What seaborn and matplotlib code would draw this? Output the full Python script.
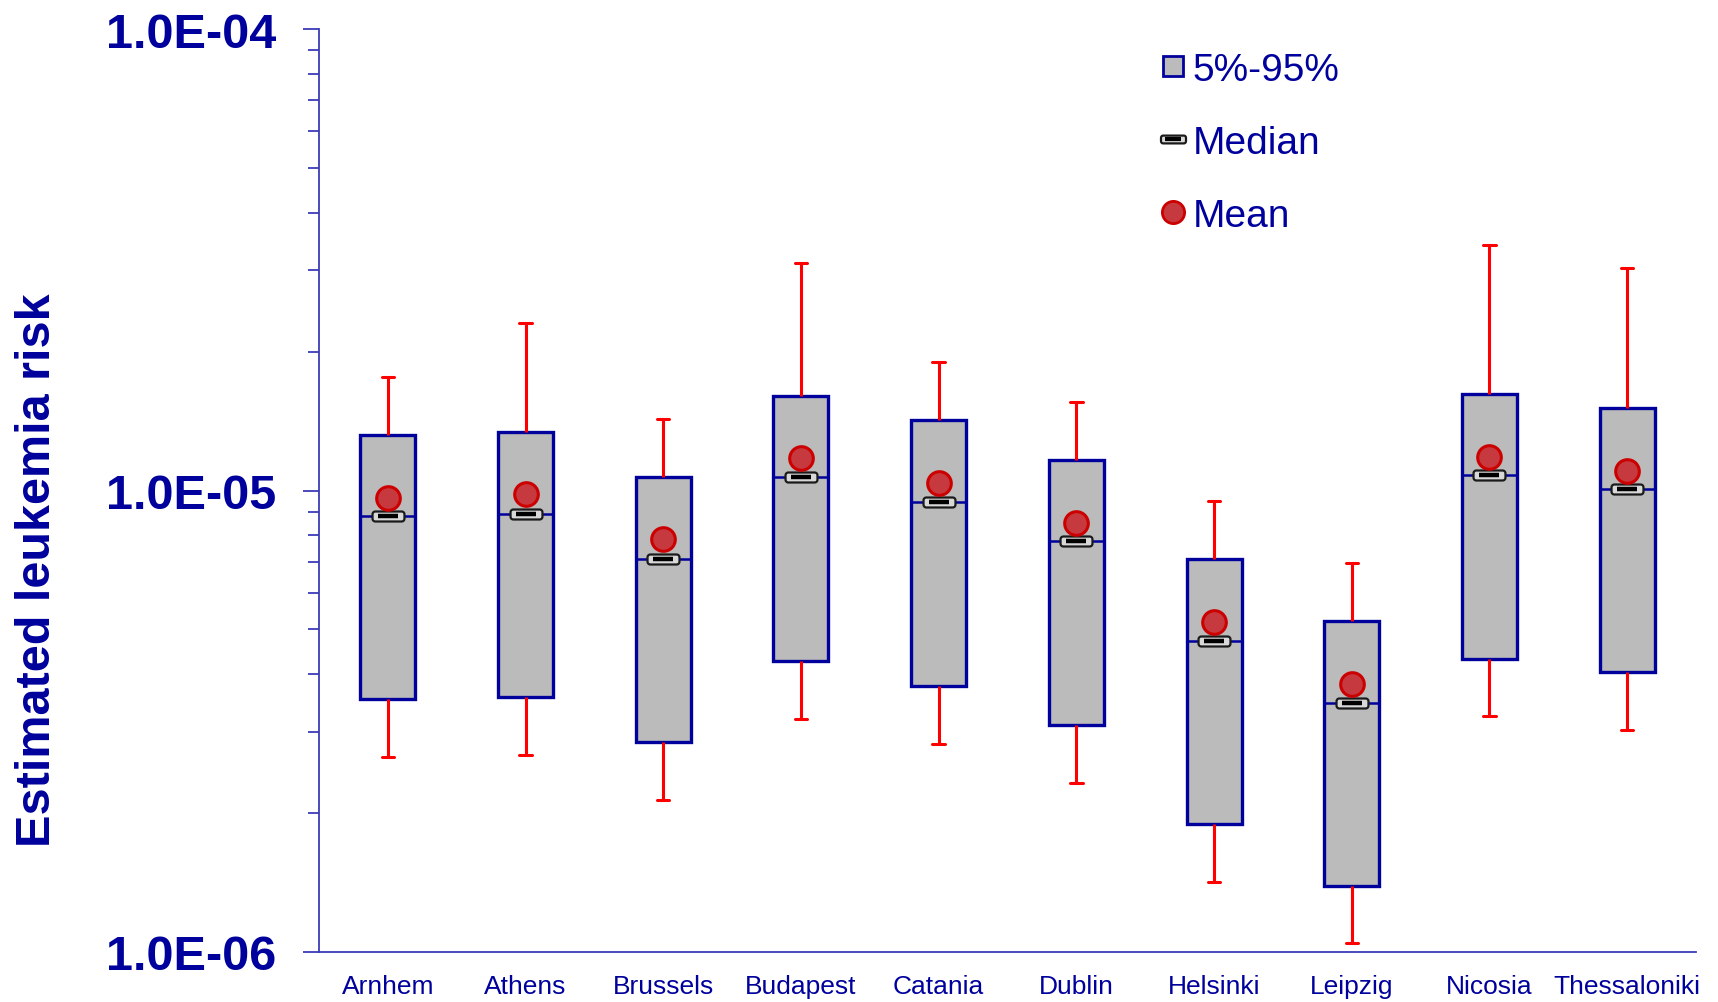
import numpy as np
import pandas as pd
import matplotlib
matplotlib.use("Agg")
import matplotlib.pyplot as plt
from matplotlib.path import Path
from matplotlib.lines import Line2D
from matplotlib.ticker import FixedLocator, FuncFormatter, LogLocator, NullFormatter
import seaborn as sns

# Estimated leukemia risk per city: 5th/95th percentiles (box), whisker ends, median and mean
cities = ["Arnhem", "Athens", "Brussels", "Budapest", "Catania",
          "Dublin", "Helsinki", "Leipzig", "Nicosia", "Thessaloniki"]
whisker_low = [2.64e-6, 2.67e-6, 2.14e-6, 3.20e-6, 2.82e-6, 2.32e-6, 1.42e-6, 1.045e-6, 3.24e-6, 3.03e-6]
p5 = [3.53e-6, 3.57e-6, 2.85e-6, 4.28e-6, 3.77e-6, 3.10e-6, 1.894e-6, 1.388e-6, 4.32e-6, 4.05e-6]
median = [8.79e-6, 8.89e-6, 7.11e-6, 1.071e-5, 9.44e-6, 7.76e-6, 4.72e-6, 3.46e-6, 1.082e-5, 1.008e-5]
p95 = [1.318e-5, 1.339e-5, 1.071e-5, 1.604e-5, 1.422e-5, 1.162e-5, 7.11e-6, 5.21e-6, 1.622e-5, 1.51e-5]
whisker_high = [1.76e-5, 2.31e-5, 1.43e-5, 3.11e-5, 1.90e-5, 1.552e-5, 9.50e-6, 6.95e-6, 3.41e-5, 3.04e-5]
mean = [9.65e-6, 9.81e-6, 7.84e-6, 1.175e-5, 1.036e-5, 8.51e-6, 5.18e-6, 3.81e-6, 1.181e-5, 1.10e-5]

y_major = [1e-6, 1e-5, 1e-4]

NAVY = "#00009C"
AXIS = "#3B3BB8"
BOX_FILL = "#BBBBBB"
MEAN_FILL = "#C63A3F"
MEAN_EDGE = "#CC0000"

sns.set_theme(style="white")
plt.rcParams["font.family"] = ["Liberation Sans", "DejaVu Sans"]

# Five summary values per city: with whiskers spanning the full range, the
# box edges fall on the 2nd and 4th values and the centre line on the 3rd.
long = pd.DataFrame({
    "city": np.repeat(cities, 5),
    "risk": np.column_stack([whisker_low, p5, median, p95, whisker_high]).ravel(),
})

fig = plt.figure(figsize=(17.18, 10.03), dpi=100)
ax = fig.add_axes([319 / 1718, 1 - 953 / 1003, (1696 - 319) / 1718, (953 - 30) / 1003])

sns.boxplot(
    data=long, x="city", y="risk", order=cities, ax=ax,
    whis=(0, 100), width=0.4, log_scale=True, fill=True,
    boxprops=dict(facecolor=BOX_FILL, edgecolor=NAVY, linewidth=2.4),
    whiskerprops=dict(color="#FF0000", linewidth=2.2),
    capprops=dict(color="#FF0000", linewidth=2.2),
    medianprops=dict(color=NAVY, linewidth=1.8),
    showfliers=False,
)

# narrower whisker caps
for line in ax.lines:
    xd = np.asarray(line.get_xdata(), dtype=float)
    yd = np.asarray(line.get_ydata(), dtype=float)
    if len(xd) == 2 and yd[0] == yd[1] and line.get_color() in ("#FF0000", "#ff0000"):
        c = xd.mean()
        line.set_xdata([c - 0.045, c + 0.045])

# rounded-rectangle marker for the median
def rounded_rect(w=3.2, h=1.0, r=0.28, n=8):
    verts = []
    corners = [(w / 2 - r, h / 2 - r, 0), (-w / 2 + r, h / 2 - r, 90),
               (-w / 2 + r, -h / 2 + r, 180), (w / 2 - r, -h / 2 + r, 270)]
    for cx, cy, a0 in corners:
        for t in np.linspace(np.radians(a0), np.radians(a0 + 90), n):
            verts.append((cx + r * np.cos(t), cy + r * np.sin(t)))
    verts.append(verts[0])
    codes = [Path.MOVETO] + [Path.LINETO] * (len(verts) - 2) + [Path.CLOSEPOLY]
    return Path(verts, codes)

median_marker = rounded_rect()

sns.stripplot(x=cities, y=median, order=cities, ax=ax, jitter=False,
              marker=median_marker, size=23, color="#D8D8D8",
              edgecolor="#1A1A1A", linewidth=1.6, zorder=4)
sns.stripplot(x=cities, y=median, order=cities, ax=ax, jitter=False,
              marker="_", size=15, color="black", linewidth=3.2, zorder=5)
sns.stripplot(x=cities, y=mean, order=cities, ax=ax, jitter=False,
              marker="o", size=17, color=MEAN_FILL,
              edgecolor=MEAN_EDGE, linewidth=2.2, zorder=6)

# axes styling
ax.set_yscale("log")
ax.set_ylim(1e-6, 1e-4)
ax.set_xlim(-0.5, len(cities) - 0.5)
ax.yaxis.set_major_locator(FixedLocator(y_major))
ax.yaxis.set_major_formatter(FuncFormatter(lambda v, _: f"{v:.1E}"))
ax.yaxis.set_minor_locator(LogLocator(base=10, subs=np.arange(2, 10)))
ax.yaxis.set_minor_formatter(NullFormatter())

ax.set_xticks(range(len(cities)))
ax.set_xticklabels(cities)
ax.set_xticks(np.arange(-0.5, len(cities)), minor=True)
ax.tick_params(axis="x", which="major", length=0, pad=15.5, labelsize=19, labelcolor=NAVY)
ax.tick_params(axis="x", which="minor", length=6.5, width=1.3, color=AXIS, direction="out")
ax.tick_params(axis="y", which="major", length=11.5, width=1.3, color=AXIS, pad=19,
               labelsize=35, labelcolor=NAVY, left=True)
ax.tick_params(axis="y", which="minor", length=8, width=1.3, color=AXIS, left=True)
for lbl in ax.get_yticklabels():
    lbl.set_fontweight("bold")

for side in ("top", "right"):
    ax.spines[side].set_visible(False)
for side in ("left", "bottom"):
    ax.spines[side].set_color(AXIS)
    ax.spines[side].set_linewidth(1.3)
ax.grid(False)

ax.set_xlabel("")
ax.set_ylabel("Estimated leukemia risk", fontsize=35, fontweight="bold", color=NAVY)
ax.yaxis.set_label_coords(-0.188, (953 - 570) / 923)

# legend
handles = [
    Line2D([], [], linestyle="none", marker="s", markersize=14,
           markerfacecolor=BOX_FILL, markeredgecolor=NAVY, markeredgewidth=2),
    (Line2D([], [], linestyle="none", marker=median_marker, markersize=18,
            markerfacecolor="#D8D8D8", markeredgecolor="#1A1A1A", markeredgewidth=1.6),
     Line2D([], [], linestyle="none", marker="_", markersize=12,
            markeredgecolor="black", markeredgewidth=3)),
    Line2D([], [], linestyle="none", marker="o", markersize=16,
           markerfacecolor=MEAN_FILL, markeredgecolor=MEAN_EDGE, markeredgewidth=2),
]
leg = ax.legend(handles, ["5%-95%", "Median", "Mean"],
                loc="upper left", bbox_to_anchor=(1159 / 1718, 1 - 53 / 1003),
                bbox_transform=fig.transFigure, frameon=False, fontsize=28,
                handlelength=0.7, handletextpad=0.16, labelspacing=0.95,
                borderpad=0, borderaxespad=0)
for t in leg.get_texts():
    t.set_color(NAVY)

fig.savefig("out.png", dpi=100)
